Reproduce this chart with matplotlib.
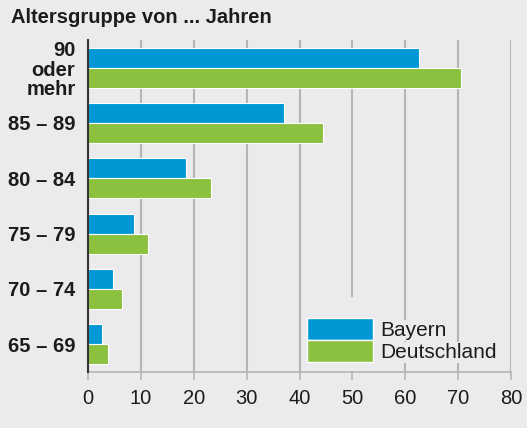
import matplotlib.pyplot as plt
import numpy as np
from matplotlib.patches import Rectangle

plt.rcParams['font.family'] = ['Liberation Sans', 'DejaVu Sans']

groups = ["65 – 69", "70 – 74", "75 – 79", "80 – 84", "85 – 89", "90\noder\nmehr"]
bayern = [2.7, 4.7, 8.7, 18.5, 37.0, 62.6]
deutschland = [3.8, 6.4, 11.4, 23.3, 44.5, 70.6]
series = ["Bayern", "Deutschland"]
xticks = [0, 10, 20, 30, 40, 50, 60, 70, 80]

bg = '#ebebed'
blue = '#0098d4'
green = '#8cc03f'
grid = '#b4b4b4'
ink = '#1e1b1c'

fig = plt.figure(figsize=(5.27, 4.28), dpi=100, facecolor=bg)
ax = fig.add_axes([88 / 527, 56 / 428, 423 / 527, 332 / 428], facecolor=bg)

y = np.arange(len(groups))
h = 0.36
ax.barh(y + h / 2, bayern, height=h, color=blue, edgecolor='white',
        linewidth=0.8, label=series[0], zorder=3)
ax.barh(y - h / 2, deutschland, height=h, color=green, edgecolor='white',
        linewidth=0.8, label=series[1], zorder=3)

ax.set_xlim(0, 80)
ax.set_ylim(-0.5, len(groups) - 0.5)
ax.set_xticks(xticks)
ax.set_xticklabels([str(t) for t in xticks], fontsize=14.5, color=ink)
ax.set_yticks(y)
ax.set_yticklabels(groups, fontsize=14.5, fontweight='bold', color=ink,
                   linespacing=1.05)
ax.tick_params(axis='y', length=0, pad=9)
ax.tick_params(axis='x', length=6, width=1.2, color=grid, pad=6)
ax.xaxis.grid(True, color=grid, linewidth=1.5, zorder=0)
ax.set_axisbelow(True)

for s in ['top', 'right']:
    ax.spines[s].set_visible(False)
ax.spines['bottom'].set_color(grid)
ax.spines['bottom'].set_linewidth(1.2)
ax.spines['left'].set_color('#333333')
ax.spines['left'].set_linewidth(1.5)
ax.spines['left'].set_zorder(4)

# background patch behind the legend handles, hides the grid there
ax.add_patch(Rectangle((0.508, 0.004), 0.18, 0.222, transform=ax.transAxes,
                       facecolor=bg, edgecolor='none', zorder=1))

leg = ax.legend(loc='lower left', bbox_to_anchor=(0.517, 0.03),
                frameon=False, fontsize=15, handlelength=3.2,
                handleheight=1.25, labelspacing=0.0, handletextpad=0.35,
                borderpad=0, borderaxespad=0)
leg.set_zorder(5)
for t in leg.get_texts():
    t.set_color(ink)
    t.set_bbox(dict(facecolor=bg, edgecolor='none', pad=1))
for p in leg.get_patches():
    p.set_edgecolor('white')
    p.set_linewidth(1)

fig.text(11 / 527, 1 - 23 / 428, "Altersgruppe von ... Jahren", fontsize=14.5,
         fontweight='bold', color=ink, va='baseline', ha='left')

fig.savefig('out.png', dpi=100, facecolor=bg)
